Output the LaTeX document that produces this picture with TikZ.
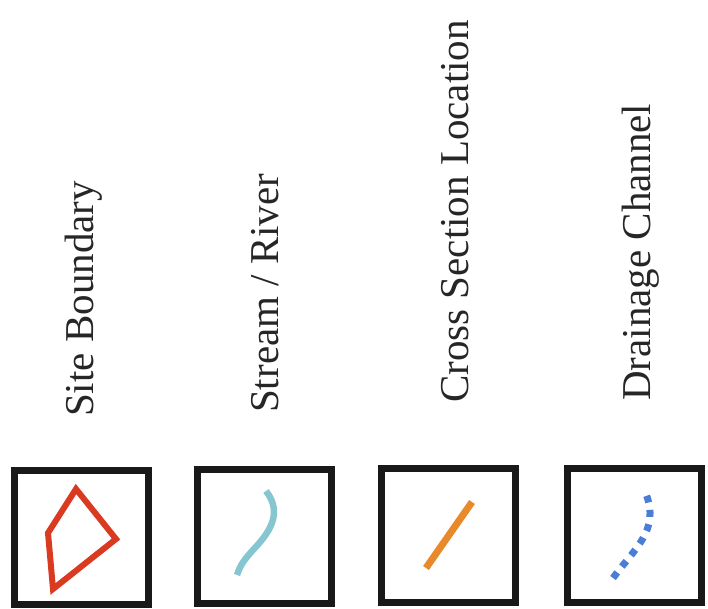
\documentclass[tikz,border=0pt]{standalone}
\usepackage{fontspec}
\setmainfont{Liberation Serif}
\begin{document}
\begin{tikzpicture}[x=1pt,y=-1pt,
  legbox/.style={draw=black!90,line width=7pt,minimum width=134pt,minimum height=134pt,inner sep=0pt},
  legtext/.style={rotate=90,anchor=base west,inner sep=0pt,font=\fontsize{41}{41}\selectfont,text=black!85}]
\useasboundingbox (0,0) rectangle (708,609);
\definecolor{sitered}{HTML}{D93A20}
\definecolor{streamteal}{HTML}{86C6D1}
\definecolor{xorange}{HTML}{E8892B}
\definecolor{drainblue}{HTML}{4A7ED6}
% boxes
\node[legbox] (b1) at (81.5,537) {};
\node[legbox] (b2) at (264,536.5) {};
\node[legbox] (b3) at (448,535) {};
\node[legbox] (b4) at (634.5,535) {};
% labels
\node[legtext] (t1) at (93,417) {Site Boundary};
\node[legtext] (t2) at (278,413) {Stream / River};
\node[legtext] (t3) at (468,403) {Cross Section Location};
\node[legtext] (t4) at (650,401) {Drainage Channel};
% symbols
\draw[sitered,line width=6pt,line join=miter] (76,489) -- (116,539) -- (53,589) -- (48,533) -- cycle;
\draw[streamteal,line width=6.5pt] (266,491) .. controls (284,514) and (268,534) .. (253,550) .. controls (243,561) and (240,566) .. (237,575);
\draw[xorange,line width=7pt] (472,502) -- (426,568);
\draw[drainblue,line width=7pt,dash pattern=on 7pt off 7.5pt] (613,578) .. controls (635,548) and (660,530) .. (646,494);
\end{tikzpicture}
\end{document}
